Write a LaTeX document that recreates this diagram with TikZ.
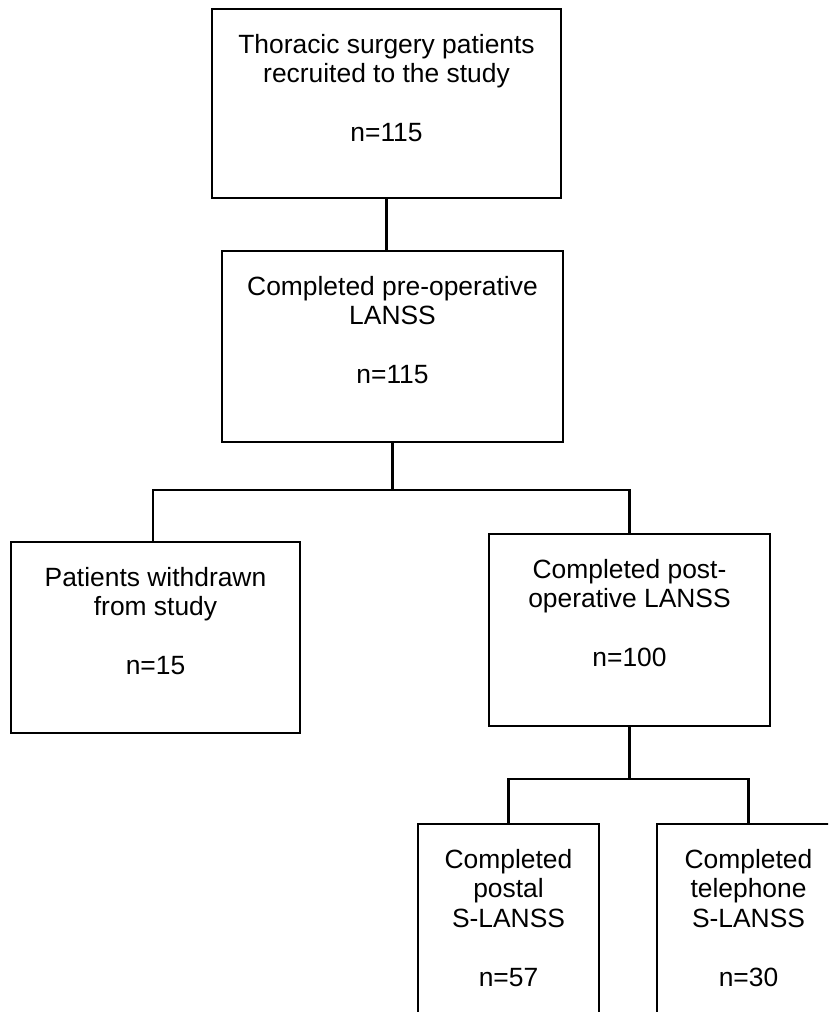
\documentclass[tikz,border=0pt]{standalone}
\usepackage{fontspec}
\setmainfont{Liberation Sans}
\begin{document}
\begin{tikzpicture}[x=1pt,y=-1pt,
  box/.style={draw, line width=1.7pt, inner sep=0pt},
  txt/.style={anchor=north, align=center, inner sep=0pt,
              font=\fontsize{26.4}{29.5}\selectfont},
  link/.style={line width=2.2pt}]
  % page frame
  \clip (0,0) rectangle (828,1012);
  \fill[white] (0,0) rectangle (828,1012);

  % boxes
  \node[box, minimum width=349pt, minimum height=189pt] (b1) at (386.5,103.5) {};
  \node[box, minimum width=341pt, minimum height=191pt] (b2) at (392.5,346.5) {};
  \node[box, minimum width=289pt, minimum height=191pt] (b3) at (155.5,637.5) {};
  \node[box, minimum width=281pt, minimum height=192pt] (b4) at (629.5,630) {};
  \node[box, minimum width=181pt, minimum height=226pt] (b5) at (508.5,937) {};
  \node[box, minimum width=183pt, minimum height=226pt] (b6) at (748.5,937) {};

  % box texts
  \node[txt] (t1) at ([yshift=-24.35pt]b1.north)
    {\strut Thoracic surgery patients\\recruited to the study\\ \\n=115};
  \node[txt] (t2) at ([yshift=-24.35pt]b2.north)
    {\strut Completed pre-operative\\LANSS\\ \\n=115};
  \node[txt] (t3) at ([yshift=-24.35pt]b3.north)
    {\strut Patients withdrawn\\from study\\ \\n=15};
  \node[txt] (t4) at ([yshift=-24.35pt]b4.north)
    {\strut Completed post-\\operative LANSS\\ \\n=100};
  \node[txt] (t5) at ([yshift=-24.35pt]b5.north)
    {\strut Completed\\postal\\S-LANSS\\ \\n=57};
  \node[txt] (t6) at ([yshift=-24.35pt]b6.north)
    {\strut Completed\\telephone\\S-LANSS\\ \\n=30};

  % junction points
  \coordinate (s1) at (392.5,490);
  \coordinate (s2) at (629.5,779);

  % connectors
  \draw[link] (b1.south) -- (b1.south |- b2.north);
  \draw[link] (b2.south) -- (s1);
  \draw[link] ([xshift=-2.5pt]b3.north) |- (s1) -| (b4.north);
  \draw[link] (b4.south) -- (s2);
  \draw[link] (b5.north) |- (s2) -| (b6.north);
\end{tikzpicture}
\end{document}
